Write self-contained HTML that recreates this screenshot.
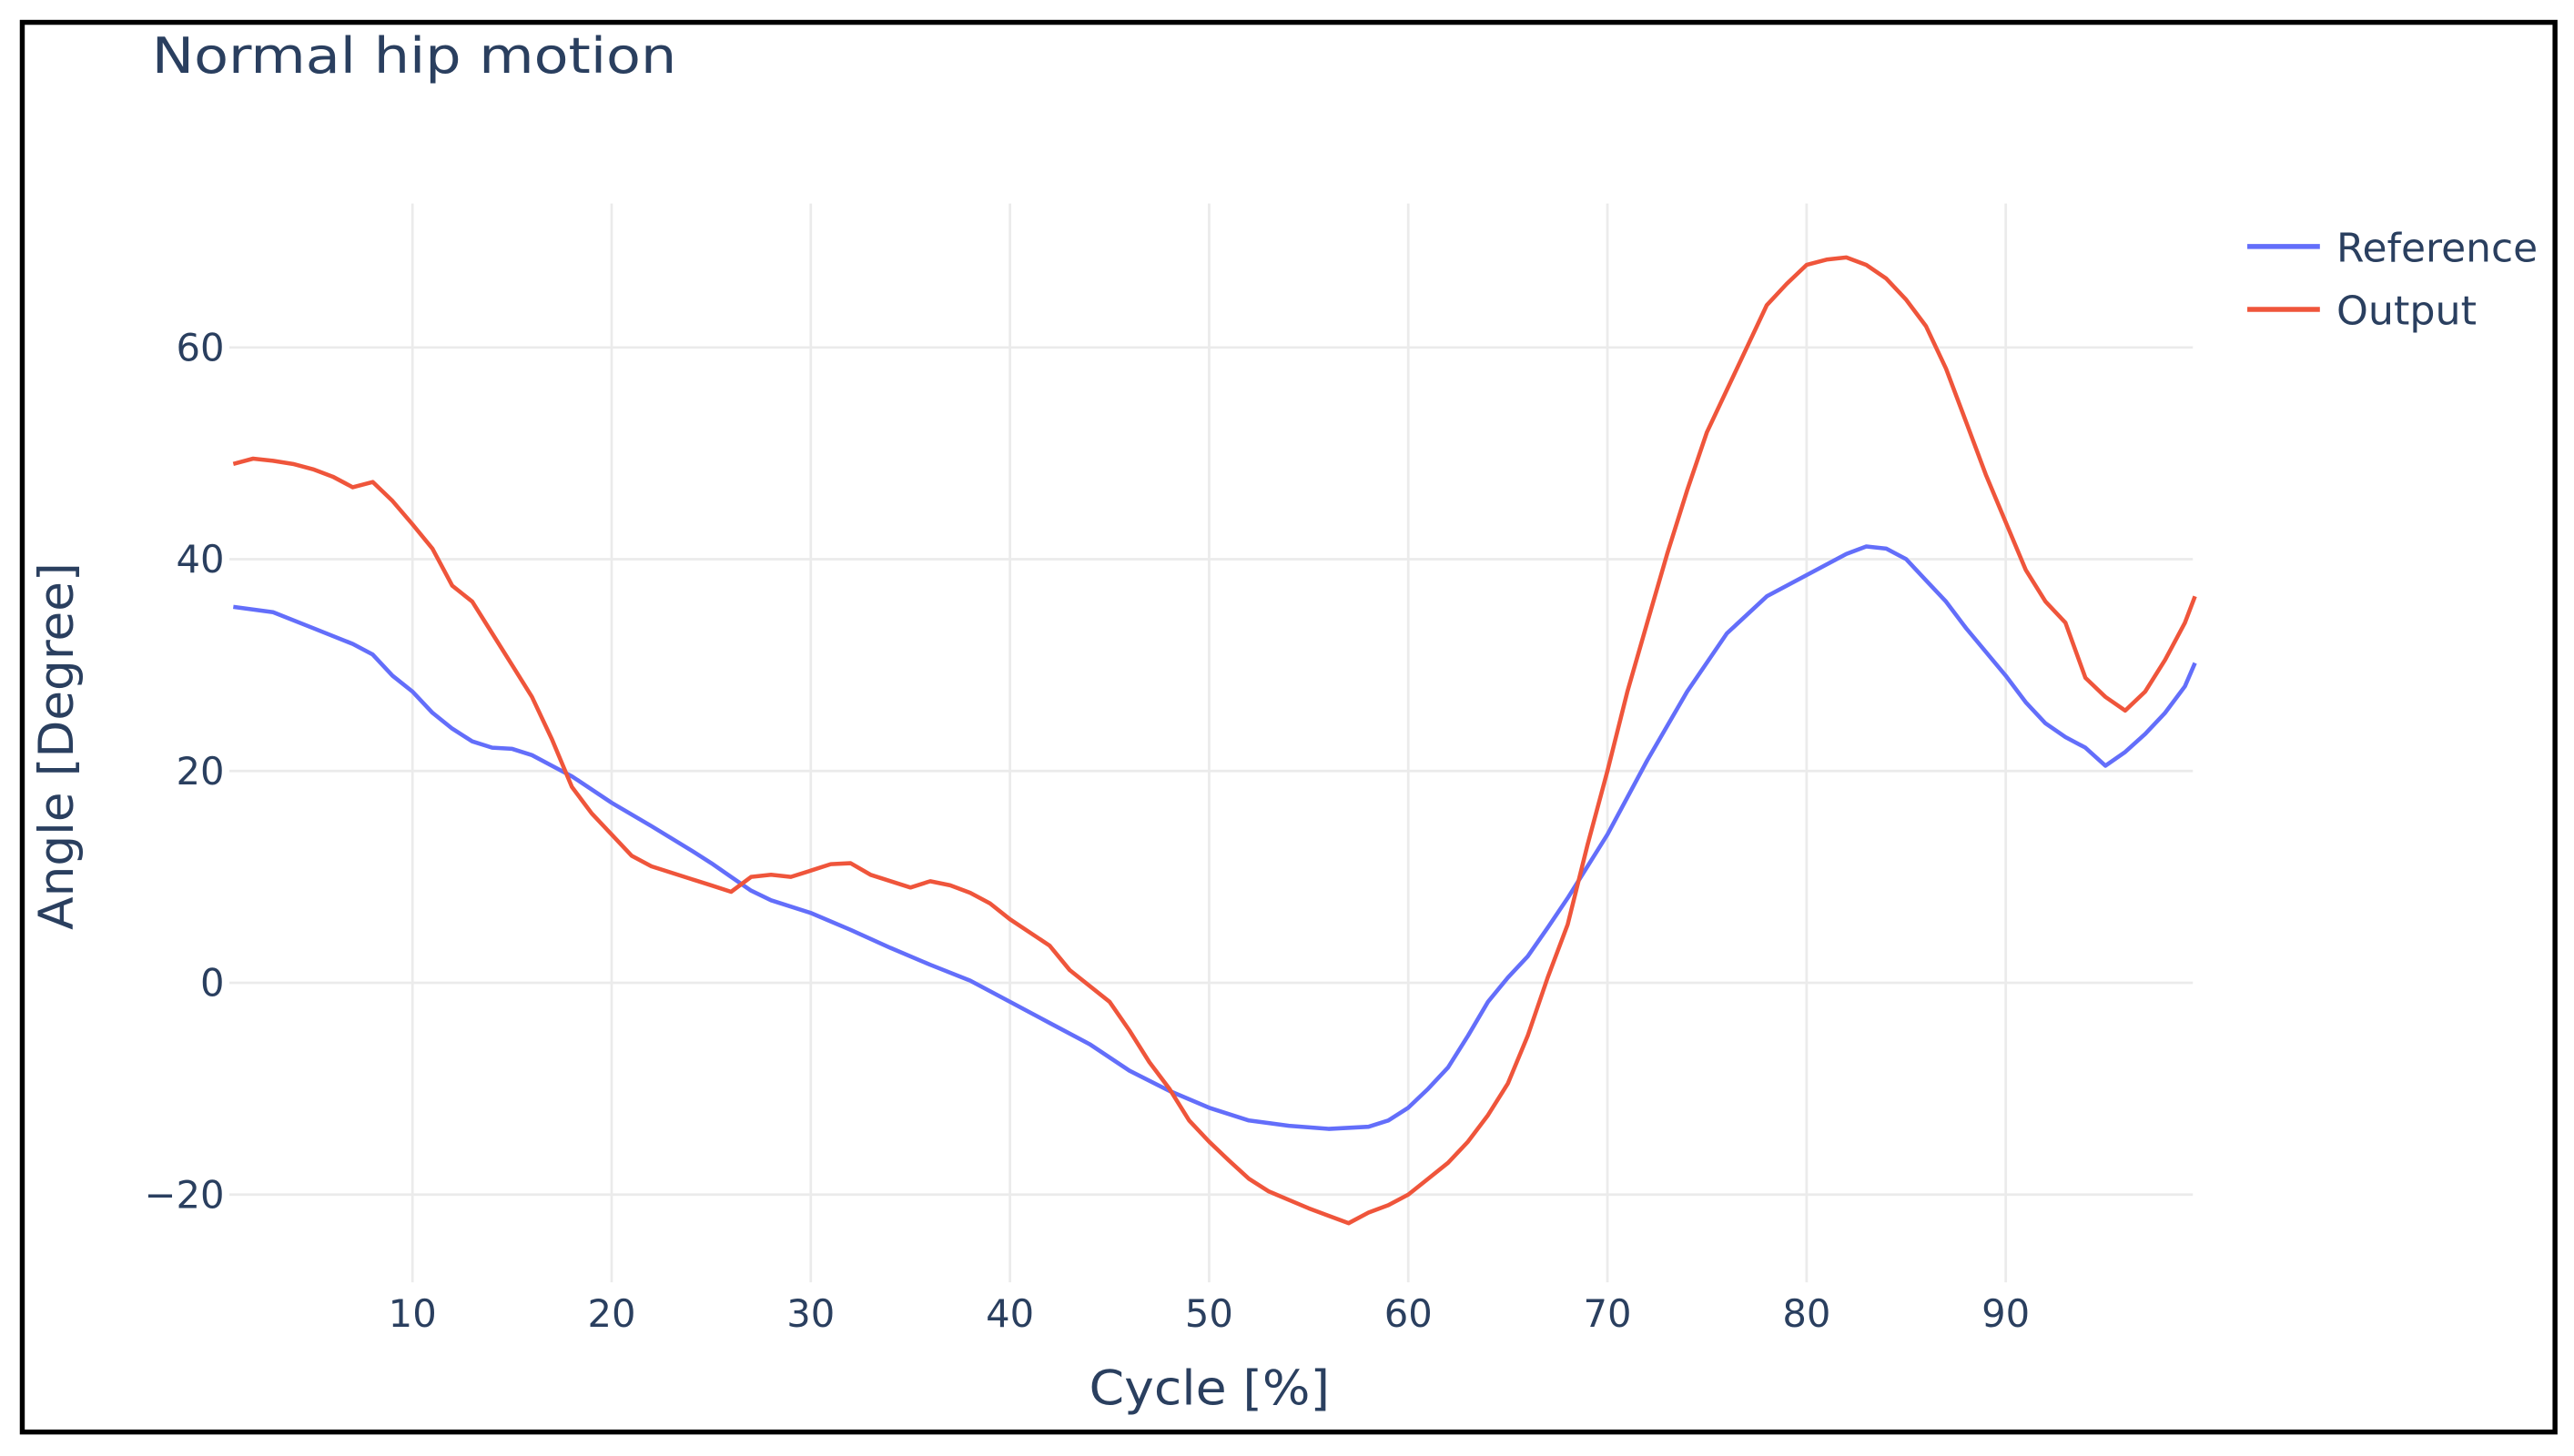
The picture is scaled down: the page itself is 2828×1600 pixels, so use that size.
<!DOCTYPE html>
<html><head><meta charset="utf-8"><style>
html,body{margin:0;padding:0;background:#fff;}
svg{display:block;font-family:"DejaVu Sans","Liberation Sans",sans-serif;}
</style></head><body>
<svg id="chart" width="2828" height="1600" viewBox="0 0 1560 880" preserveAspectRatio="none" xmlns="http://www.w3.org/2000/svg">
<rect x="13.5" y="13.5" width="1535" height="852" fill="#fff" stroke="#000" stroke-width="3"/>
<text x="92" y="44" font-size="30" fill="#2a3f5f" textLength="318" lengthAdjust="spacingAndGlyphs">Normal hip motion</text>
<g id="grid"></g>
<g id="ticks"></g>
<g id="series"></g>
<text x="733" y="849" font-size="29" fill="#2a3f5f" text-anchor="middle" textLength="146" lengthAdjust="spacingAndGlyphs">Cycle [%]</text>
<text transform="translate(44,451) rotate(-90)" font-size="29" fill="#2a3f5f" text-anchor="middle" textLength="222" lengthAdjust="spacingAndGlyphs">Angle [Degree]</text>
<g>
<g>
<line x1="1362" y1="149" x2="1406" y2="149" stroke="#636efa" stroke-width="3"/>
<text x="1416" y="158" font-size="24" fill="#2a3f5f" textLength="122" lengthAdjust="spacingAndGlyphs">Reference</text></g>
<g>
<line x1="1362" y1="187" x2="1406" y2="187" stroke="#ef553b" stroke-width="3"/>
<text x="1416" y="196" font-size="24" fill="#2a3f5f" textLength="85" lengthAdjust="spacingAndGlyphs">Output</text></g>
</g>
</svg>
<script>
const xTicks=[10,20,30,40,50,60,70,80,90];
const yTicks=[60,40,20,0,-20];
const yTickLabels=["60","40","20","0","\u221220"];
const refX=[1,3,5,7,8,9,10,11,12,13,14,15,16,17,18,20,22,24,25,26,27,28,30,32,34,36,38,40,42,44,46,48,50,52,54,56,58,59,60,61,62,63,64,65,66,67,68,70,72,74,76,78,80,82,83,84,85,86,87,88,90,91,92,93,94,95,96,97,98,99,99.5];
const refY=[35.5,35,33.5,32,31,29,27.5,25.5,24,22.8,22.2,22.1,21.5,20.5,19.5,17,14.8,12.5,11.3,10,8.7,7.8,6.6,5,3.3,1.7,0.2,-1.8,-3.8,-5.8,-8.3,-10.2,-11.8,-13,-13.5,-13.8,-13.6,-13,-11.8,-10,-8,-5,-1.8,0.5,2.5,5.2,8,14,21,27.5,33,36.5,38.5,40.5,41.2,41,40,38,36,33.5,29,26.5,24.5,23.2,22.2,20.5,21.8,23.5,25.5,28,30.2];
const outX=[1,2,3,4,5,6,7,8,9,10,11,12,13,14,15,16,17,18,19,20,21,22,24,25,26,27,28,29,30,31,32,33,35,36,37,38,39,40,42,43,45,46,47,48,49,50,51,52,53,54,55,56,57,58,59,60,61,62,63,64,65,66,67,68,69,70,71,72,73,74,75,76,77,78,79,80,81,82,83,84,85,86,87,88,89,90,91,92,93,94,95,96,97,98,99,99.5];
const outY=[49,49.5,49.3,49,48.5,47.8,46.8,47.3,45.5,43.3,41,37.5,36,33,30,27,23,18.5,16,14,12,11,9.8,9.2,8.6,10,10.2,10,10.6,11.2,11.3,10.2,9,9.6,9.2,8.5,7.5,6,3.5,1.2,-1.8,-4.5,-7.5,-10,-13,-15,-16.8,-18.5,-19.7,-20.5,-21.3,-22,-22.7,-21.7,-21,-20,-18.5,-17,-15,-12.5,-9.5,-5,0.5,5.5,13,20,27.5,34,40.5,46.5,52,56,60,64,66,67.8,68.3,68.5,67.8,66.5,64.5,62,58,53,48,43.5,39,36,34,28.8,27,25.7,27.5,30.5,34,36.5];

const NS="http://www.w3.org/2000/svg";
const X0=139,X1=1329,Y0=123,Y1=775;
function sx(v){return 129.3+v*12.07;}
function sy(v){return 594-v*6.4;}
function mk(tag,attrs,parent){const e=document.createElementNS(NS,tag);for(const k in attrs)e.setAttribute(k,attrs[k]);parent.appendChild(e);return e;}
const grid=document.getElementById('grid'),ticks=document.getElementById('ticks'),series=document.getElementById('series');
xTicks.forEach(t=>{
  const l=mk('line',{x1:sx(t),x2:sx(t),y1:Y0,y2:Y1,stroke:'#ebebeb','stroke-width':1.5},grid);
  
  
  const tx=mk('text',{x:sx(t),y:802,'font-size':23,fill:'#2a3f5f','text-anchor':'middle'},ticks);
  tx.textContent=t;
  
  
});
yTicks.forEach((t,i)=>{
  const l=mk('line',{x1:X0,x2:X1,y1:sy(t),y2:sy(t),stroke:'#ebebeb','stroke-width':1.5},grid);
  
  
  const tx=mk('text',{x:136,y:sy(t)+8,'font-size':23,fill:'#2a3f5f','text-anchor':'end'},ticks);
  tx.textContent=yTickLabels[i];
  
  
});
function path(xs,ys){return xs.map((x,i)=>(i?'L':'M')+sx(x).toFixed(1)+','+sy(ys[i]).toFixed(1)).join('');}
const r=mk('path',{d:path(refX,refY),fill:'none',stroke:'#636efa','stroke-width':2.5,'stroke-linejoin':'round'},series);


const o=mk('path',{d:path(outX,outY),fill:'none',stroke:'#ef553b','stroke-width':2.5,'stroke-linejoin':'round'},series);


</script>
</body></html>
